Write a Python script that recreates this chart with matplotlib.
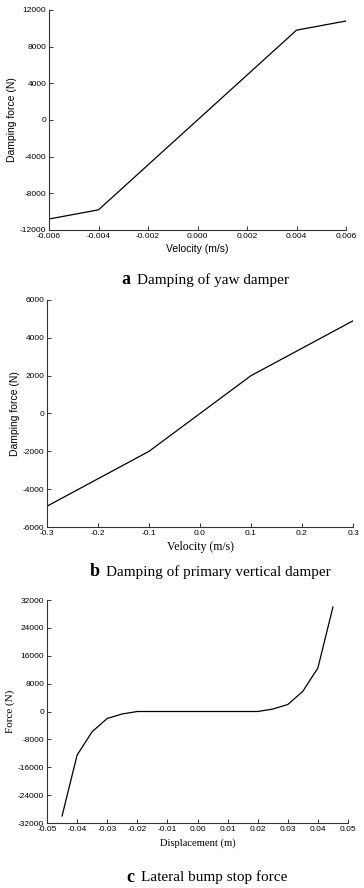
import matplotlib.pyplot as plt

# panel a: yaw damper
vel_a = [-0.006, -0.004, 0.004, 0.006]
force_a = [-10800, -9800, 9800, 10800]
xticks_a = [-0.006, -0.004, -0.002, 0.000, 0.002, 0.004, 0.006]
yticks_a = [-12000, -8000, -4000, 0, 4000, 8000, 12000]

# panel b: primary vertical damper
vel_b = [-0.3, -0.1, 0.1, 0.3]
force_b = [-4900, -2000, 2000, 4900]
xticks_b = [-0.3, -0.2, -0.1, 0.0, 0.1, 0.2, 0.3]
yticks_b = [-6000, -4000, -2000, 0, 2000, 4000, 6000]

# panel c: lateral bump stop
disp_c = [-0.045, -0.04, -0.035, -0.03, -0.025, -0.02, 0.02, 0.025, 0.03, 0.035, 0.04, 0.045]
force_c = [-30000, -12500, -5800, -2000, -700, 0, 0, 700, 2000, 5800, 12500, 30000]
xticks_c = [-0.05, -0.04, -0.03, -0.02, -0.01, 0.00, 0.01, 0.02, 0.03, 0.04, 0.05]
yticks_c = [-32000, -24000, -16000, -8000, 0, 8000, 16000, 24000, 32000]

sans = "Liberation Sans"
serif = "Liberation Serif"
W, H = 364, 888

fig = plt.figure(figsize=(3.64, 8.88), dpi=100)


def style(ax, xt, yt, xfmt):
    for s in ["top", "right"]:
        ax.spines[s].set_visible(False)
    for s in ["left", "bottom"]:
        ax.spines[s].set_linewidth(0.8)
        ax.spines[s].set_color("#333333")
    ax.set_xticks(xt)
    ax.set_yticks(yt)
    ax.set_xticklabels([xfmt.format(v) for v in xt], family=sans, fontsize=6)
    ax.set_yticklabels([str(v) for v in yt], family=sans, fontsize=6)
    ax.tick_params(direction="in", length=3, width=0.7, color="#333333", pad=2)
    ax.set_xlim(xt[0], xt[-1])
    ax.set_ylim(yt[0], yt[-1])


ax1 = fig.add_axes([49 / W, 1 - 230 / H, 297 / W, 220 / H])
ax1.plot(vel_a, force_a, color="black", lw=0.9)
style(ax1, xticks_a, yticks_a, "{:.3f}")
ax1.set_xlabel("Velocity (m/s)", family=sans, fontsize=7.5, labelpad=3)
ax1.set_ylabel("Damping force (N)", family=sans, fontsize=7.5, labelpad=2)

ax2 = fig.add_axes([47 / W, 1 - 527 / H, 306 / W, 227 / H])
ax2.plot(vel_b, force_b, color="black", lw=0.9)
style(ax2, xticks_b, yticks_b, "{:.1f}")
ax2.set_xlabel("Velocity (m/s)", family=serif, fontsize=8.5, labelpad=3)
ax2.set_ylabel("Damping force (N)", family=sans, fontsize=7.5, labelpad=2)

ax3 = fig.add_axes([47 / W, 1 - 823 / H, 301 / W, 223 / H])
ax3.plot(disp_c, force_c, color="black", lw=0.9)
style(ax3, xticks_c, yticks_c, "{:.2f}")
ax3.set_xlabel("Displacement (m)", family=serif, fontsize=7.6, labelpad=4)
ax3.set_ylabel("Force (N)", family=serif, fontsize=8, labelpad=2)

# captions: bold letter + plain title
captions = [("a", "Damping of yaw damper", 130, 137, 280),
            ("b", "Damping of primary vertical damper", 100, 106, 572),
            ("c", "Lateral bump stop force", 134, 141, 877)]
for letter, text, xl, xt, y in captions:
    fig.text(xl / W, 1 - y / H, letter, ha="right", va="center",
             family=serif, fontsize=13, fontweight="bold")
    fig.text(xt / W, 1 - y / H, text, ha="left", va="center",
             family=serif, fontsize=11)

fig.savefig("out.png", dpi=100)
